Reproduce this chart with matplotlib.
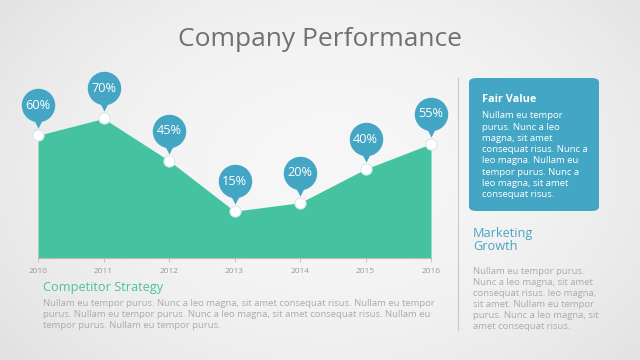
import numpy as np
import matplotlib
matplotlib.use("Agg")
import matplotlib.pyplot as plt
from matplotlib.patches import FancyBboxPatch
from matplotlib.transforms import ScaledTranslation

years = [2010, 2011, 2012, 2013, 2014, 2015, 2016]
values = [60, 70, 45, 15, 20, 40, 55]
labels = ["60%", "70%", "45%", "15%", "20%", "40%", "55%"]

title = "Company Performance"
box_title = "Fair Value"
box_text = ["Nullam eu tempor", "purus. Nunc a leo", "magna, sit amet",
            "consequat risus. Nunc a", "leo magna. Nullam eu",
            "tempor purus. Nunc a", "leo magna, sit amet", "consequat risus."]
side_title = ["Marketing", "Growth"]
side_text = ["Nullam eu tempor purus.", "Nunc a leo magna, sit amet",
             "consequat risus. leo magna,", "sit amet. Nullam eu tempor",
             "purus. Nunc a leo magna, sit", "amet consequat risus."]
bottom_title = "Competitor Strategy"
bottom_text = ["Nullam eu tempor purus. Nunc a leo magna, sit amet consequat risus. Nullam eu tempor",
               "purus. Nullam eu tempor purus. Nunc a leo magna, sit amet consequat risus. Nullam eu",
               "tempor purus. Nullam eu tempor purus."]

GREEN = "#45C3A1"
BLUE = "#43A6C4"
FONT = "Open Sans"

W, H = 640, 360
fig = plt.figure(figsize=(6.4, 3.6), dpi=100)

# background radial gradient
bg = fig.add_axes([0, 0, 1, 1])
yy, xx = np.mgrid[0:H, 0:W]
r = np.sqrt(((xx - 330) / 420.0) ** 2 + ((yy - 170) / 300.0) ** 2)
shade = 0.968 - 0.085 * np.clip(r, 0, 1.3) ** 2
bg.imshow(np.dstack([shade] * 3), extent=[0, W, H, 0], aspect="auto")
bg.set_xlim(0, W)
bg.set_ylim(H, 0)
bg.axis("off")

def px(x, y):
    return x / W, 1 - y / H

# chart axes
ylo, yhi = -12.8, 104.7
left, right, top, bottom = 38, 431, 60, 258
ax = fig.add_axes([left / W, 1 - bottom / H, (right - left) / W, (bottom - top) / H])
ax.patch.set_alpha(0)
ax.set_xlim(years[0], years[-1])
ax.set_ylim(ylo, yhi)
ax.fill_between(years, values, ylo, color=GREEN, lw=0, zorder=1)
for s in ["top", "right", "left"]:
    ax.spines[s].set_visible(False)
ax.spines["bottom"].set_color("#BBBBBB")
ax.spines["bottom"].set_linewidth(0.8)
ax.set_yticks([])
ax.set_xticks(years)
ax.set_xticklabels([str(y) for y in years], fontsize=6, color="#999999", family=FONT)
ax.tick_params(axis="x", length=3, width=0.6, color="#BBBBBB", pad=4)

# markers
ax.plot(years, values, ls="none", marker="o", ms=8, mfc="white", mec="#D8E8E8",
        mew=0.8, zorder=5, clip_on=False)

# bubbles
off_c = ax.transData + ScaledTranslation(0, 30 / 100, fig.dpi_scale_trans)
off_t = ax.transData + ScaledTranslation(0, 12 / 100, fig.dpi_scale_trans)
ax.scatter(years, values, s=580, color=BLUE, transform=off_c, zorder=6, clip_on=False, lw=0)
ax.scatter(years, values, s=55, marker="v", color=BLUE, transform=off_t, zorder=6,
           clip_on=False, lw=0)
for x, v, lab in zip(years, values, labels):
    ax.text(x, v, lab, transform=off_c, ha="center", va="center", color="white",
            fontsize=9.2, family=FONT, zorder=7, clip_on=False)

# title
fig.text(*px(320, 40), title, ha="center", va="center", fontsize=19,
         color="#707070", family=FONT)

# divider
fig.add_artist(plt.Line2D([458 / W, 458 / W], [1 - 78 / H, 1 - 330 / H],
                          color="#C8C8C8", lw=0.8))

# box
box = FancyBboxPatch((469 / W, 1 - 211 / H), (599 - 469) / W, (211 - 78) / H,
                     boxstyle="round,pad=0,rounding_size=0.012",
                     transform=fig.transFigure, facecolor=BLUE, edgecolor="none")
fig.add_artist(box)
fig.text(*px(482, 99), box_title, ha="left", va="center", fontsize=7.8,
         color="white", family=FONT, weight="bold")
for i, line in enumerate(box_text):
    fig.text(*px(482, 116 + i * 11.2), line, ha="left", va="center", fontsize=6.8,
             color="white", family=FONT)

for i, line in enumerate(side_title):
    fig.text(*px(473, 233 + i * 14), line, ha="left", va="center", fontsize=9.2,
             color="#4AA4C6", family=FONT)
for i, line in enumerate(side_text):
    fig.text(*px(473, 271 + i * 11.1), line, ha="left", va="center", fontsize=6.8,
             color="#ABABAB", family=FONT)

fig.text(*px(43, 287), bottom_title, ha="left", va="center", fontsize=9.2,
         color="#4CC2A0", family=FONT)
for i, line in enumerate(bottom_text):
    fig.text(*px(43, 303 + i * 11.3), line, ha="left", va="center", fontsize=6.8,
             color="#ABABAB", family=FONT)

fig.savefig("out.png", dpi=100)
